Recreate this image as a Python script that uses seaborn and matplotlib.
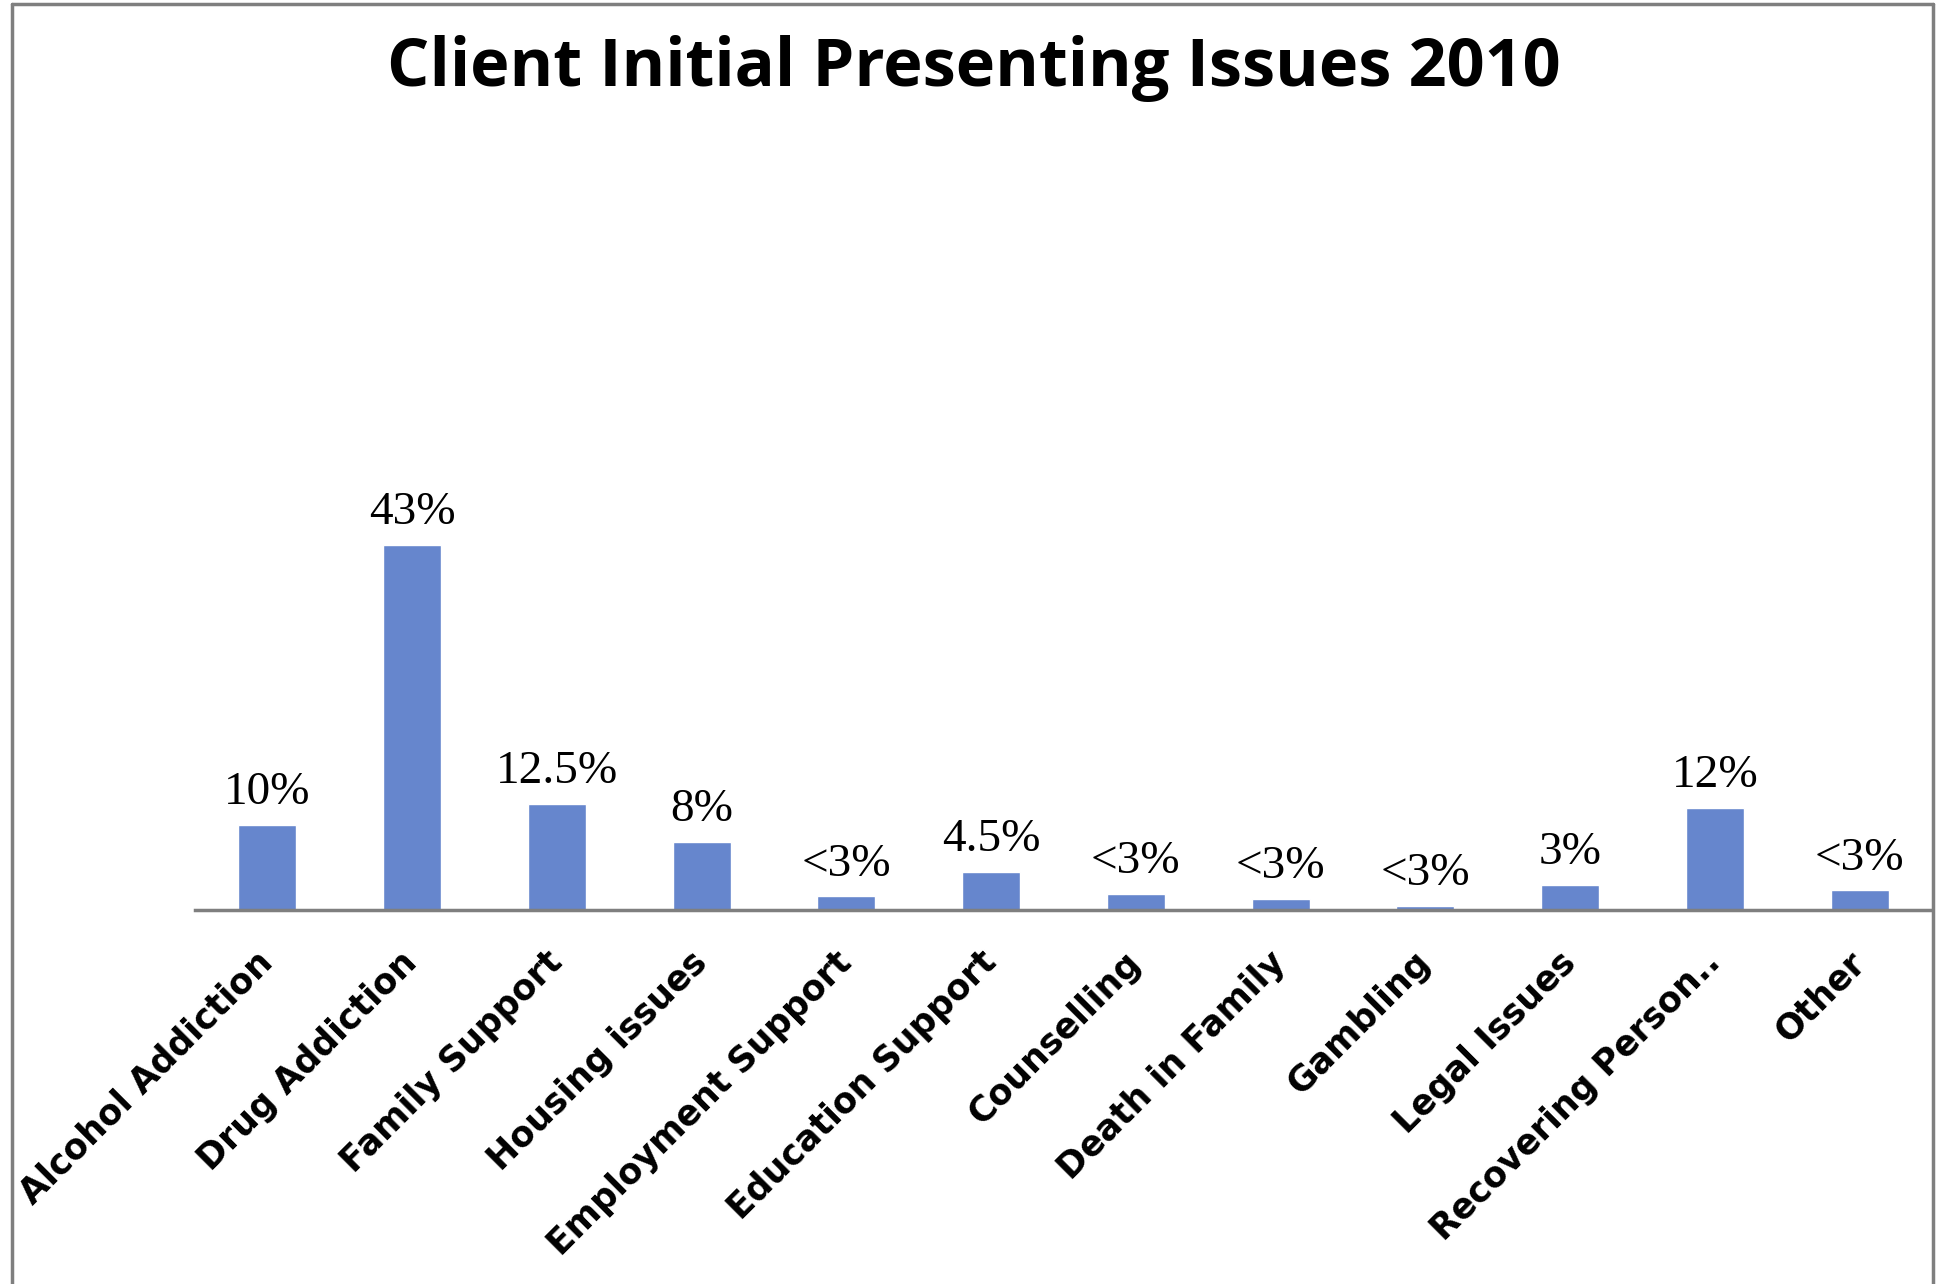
import matplotlib
matplotlib.use("Agg")
import matplotlib.pyplot as plt
from matplotlib.lines import Line2D
import pandas as pd
import seaborn as sns

categories = [
    "Alcohol Addiction", "Drug Addiction", "Family Support", "Housing issues",
    "Employment Support", "Education Support", "Counselling", "Death in Family",
    "Gambling", "Legal Issues", "Recovering Person..", "Other",
]
values = [10, 43, 12.5, 8, 1.6, 4.5, 1.9, 1.3, 0.5, 3, 12, 2.3]
value_labels = ["10%", "43%", "12.5%", "8%", "<3%", "4.5%", "<3%", "<3%",
                "<3%", "3%", "12%", "<3%"]
title = "Client Initial Presenting Issues 2010"

bar_color = "#6686CD"
frame_color = "#7f7f7f"

sns.set_theme(style="white")
plt.rcParams["font.family"] = ["DejaVu Sans"]
plt.rcParams["text.color"] = "black"
plt.rcParams["xtick.color"] = "black"

df = pd.DataFrame({"issue": categories, "pct": values})

fig = plt.figure(figsize=(19.39, 12.84), dpi=100)
ax = fig.add_axes([0.1006, 0.2913, 0.8958, 0.3306])

sns.barplot(data=df, x="issue", y="pct", color=bar_color, width=0.4,
            saturation=1, ax=ax)
ax.set_ylim(0, 50)
ax.set_xlim(-0.5, len(categories) - 0.5)

for patch, text in zip(ax.patches, value_labels):
    ax.annotate(text, (patch.get_x() + patch.get_width() / 2, patch.get_height()),
                xytext=(0, 15), textcoords="offset points", ha="center",
                va="baseline", fontsize=34, family="Liberation Serif",
                color="black")

ax.set_xlabel("")
ax.set_ylabel("")
ax.set_yticks([])
ax.tick_params(axis="x", length=0, pad=34)
ax.set_xticks(range(len(categories)))
ax.set_xticklabels(categories, rotation=45, ha="right", va="center",
                   rotation_mode="anchor", fontsize=25, fontweight="bold",
                   color="black")

for side in ["top", "left", "right"]:
    ax.spines[side].set_visible(False)
ax.spines["bottom"].set_color(frame_color)
ax.spines["bottom"].set_linewidth(2.5)

fig.suptitle(title, x=0.502, y=0.973, va="top", fontsize=48,
             fontweight="bold", family="Open Sans", color="black")

# outer chart frame (left, top, right edges)
W, H = 1939, 1284
x0, x1, ytop = 12 / W, 1933 / W, 1 - 4 / H
for xs, ys in [([x0, x0], [0, ytop]), ([x0, x1], [ytop, ytop]), ([x1, x1], [ytop, 0])]:
    fig.add_artist(Line2D(xs, ys, transform=fig.transFigure, color=frame_color,
                          linewidth=2.5))

fig.savefig("out.png", dpi=100, facecolor="white")
